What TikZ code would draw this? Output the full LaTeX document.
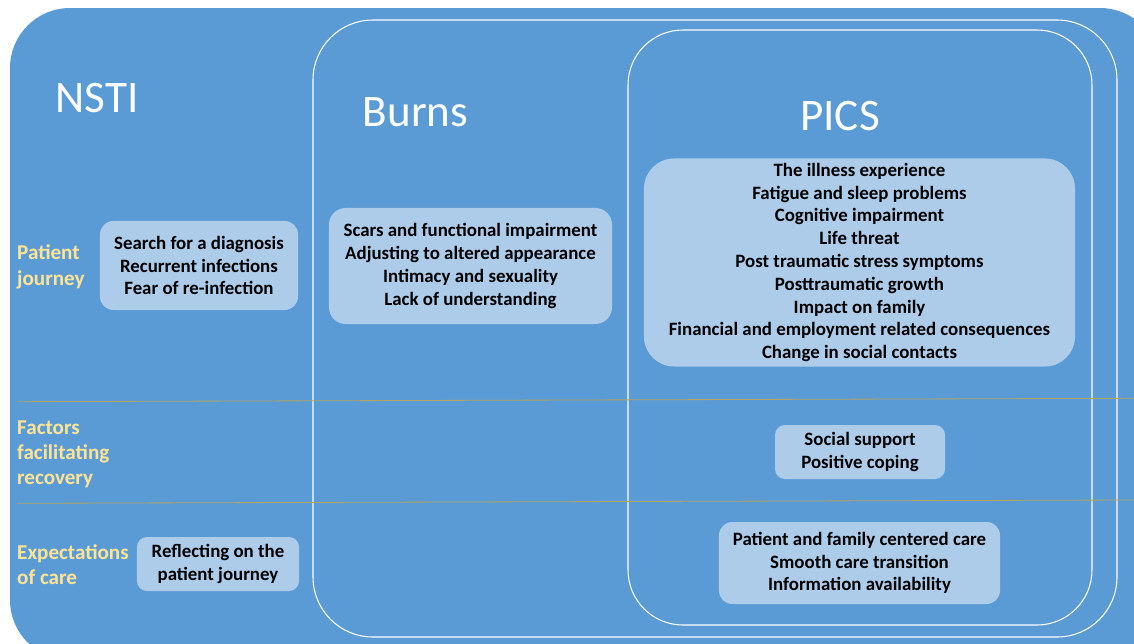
\documentclass[tikz,border=0pt]{standalone}
\usepackage{fontspec}
\setmainfont{Carlito}
\usetikzlibrary{positioning}
\definecolor{panel}{RGB}{91, 155, 213}
\definecolor{itembox}{RGB}{173, 204, 234}
\definecolor{rowlabel}{RGB}{255, 228, 150}
\definecolor{divider}{RGB}{178, 164, 98}

\begin{document}
\begin{tikzpicture}[
    x=0.03cm, y=-0.03cm,
    title/.style={font=\fontsize{38.5}{44}\selectfont, text=white, inner sep=0pt, anchor=base},
    item/.style={rectangle, rounded corners=0.4cm, fill=itembox, align=center, inner sep=0pt, font=\fontsize{16.1}{19.45}\selectfont\bfseries},
    rowtext/.style={anchor=west, align=left, inner sep=0pt, text=rowlabel, font=\fontsize{18}{21.5}\selectfont\bfseries},
    frame/.style={draw=white, line width=0.9pt},
    split/.style={draw=divider, line width=0.7pt}
  ]

  \useasboundingbox (0,0) rectangle (1134,644);
  \clip (0,0) rectangle (1134,644);

  % Panels
  \fill[panel, rounded corners=1.8cm] (10,8) rectangle (1160,660);
  \draw[frame, rounded corners=1.8cm] (313,20) rectangle (1117,637);
  \draw[frame, rounded corners=1.65cm] (628,30) rectangle (1092,625);

  % Row dividers
  \coordinate (d1a) at (17,401.7);
  \coordinate (d1b) at (1134,398.3);
  \coordinate (d2a) at (17,503.3);
  \coordinate (d2b) at (1134,500);
  \draw[split] (d1a) -- (d1b);
  \draw[split] (d2a) -- (d2b);

  % Headers
  \node[title] (nsti) at (97,112) {NSTI};
  \node[title] (burns) at (415.5,126) {Burns};
  \node[title] (pics) at (840,130) {PICS};

  % Rows
  \node[rowtext] (journey) at (17,267) {Patient\\[1pt]journey};
  \node[rowtext] (factors) at (17,454.5) {Factors\\facilitating\\recovery};
  \node[rowtext] (expect) at (17,564.5) {Expectations\\of care};

  % Patient journey
  \node[item, minimum width=5.94cm, minimum height=2.67cm] (jnsti) at (199,265.5)
    {Search for a diagnosis\\Recurrent infections\\Fear of re-infection};
  \node[item, minimum width=8.49cm, minimum height=3.48cm, rounded corners=0.5cm] (jburns) at (470.5,266)
    {Scars and functional impairment\\Adjusting to altered appearance\\Intimacy and sexuality\\Lack of understanding};
  \node[item, minimum width=12.93cm, minimum height=6.24cm, rounded corners=0.9cm] (jpics) at (859.5,262.5)
    {The illness experience\\Fatigue and sleep problems\\Cognitive impairment\\Life threat\\Post traumatic stress symptoms\\Posttraumatic growth\\Impact on family\\Financial and employment related consequences\\Change in social contacts};

  % Recovery factors
  \node[item, minimum width=5.1cm, minimum height=1.62cm, rounded corners=0.3cm] (fpics) at (860,452)
    {Social support\\Positive coping};

  % Expectations
  \node[item, minimum width=4.86cm, minimum height=1.62cm, rounded corners=0.3cm] (ensti) at (218,564)
    {Reflecting on the\\patient journey};
  \node[item, minimum width=8.43cm, minimum height=2.46cm] (epics) at (859.5,563)
    {Patient and family centered care\\Smooth care transition\\Information availability};

\end{tikzpicture}
\end{document}
